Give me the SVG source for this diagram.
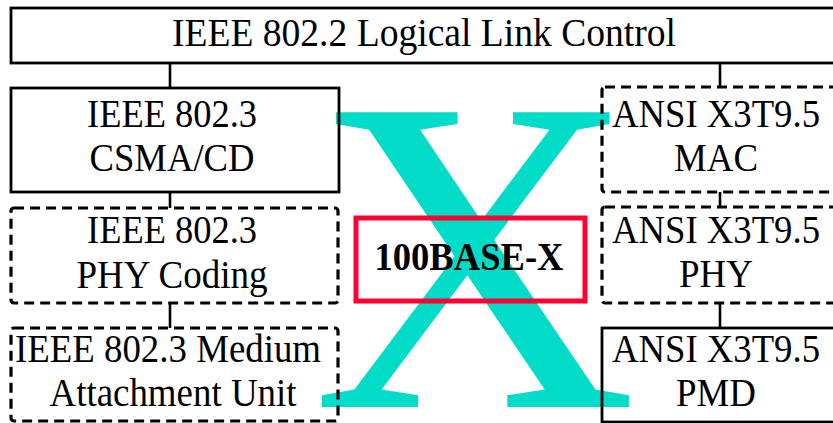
<svg xmlns="http://www.w3.org/2000/svg" width="833" height="423" viewBox="0 0 833 423">
<style>
.box{fill:none;stroke:#000;stroke-width:2.8}
.dash{fill:none;stroke:#000;stroke-width:3.2;stroke-dasharray:10 6}
.lbl{font-family:"Liberation Serif","Times New Roman",serif;font-size:39px;fill:#000;text-anchor:middle}
.conn{stroke:#000;stroke-width:2.6;fill:none}
</style>
<rect width="833" height="423" fill="#fff"/>
<text id="bigX" x="312" y="407" font-family="Liberation Serif, Times New Roman, serif" font-size="450" fill="#00DCC8">X</text>
<g id="connectors">
<line class="conn" x1="170" y1="63" x2="170" y2="88"/>
<line class="conn" x1="170" y1="192" x2="170" y2="208"/>
<line class="conn" x1="170" y1="303" x2="170" y2="328"/>
<line class="conn" x1="720" y1="63" x2="720" y2="87"/>
<line class="conn" x1="720" y1="192" x2="720" y2="207"/>
<line class="conn" x1="720" y1="303" x2="720" y2="328"/>
</g>
<g id="llc">
<rect class="box" x="11" y="8" width="830" height="55"/>
<text class="lbl" x="424" y="46" textLength="504" lengthAdjust="spacingAndGlyphs">IEEE 802.2 Logical Link Control</text>
</g>
<g id="csma">
<rect class="box" x="11" y="88" width="328" height="104"/>
<text class="lbl" x="172" y="127" textLength="170" lengthAdjust="spacingAndGlyphs">IEEE 802.3</text>
<text class="lbl" x="172" y="171" textLength="165" lengthAdjust="spacingAndGlyphs">CSMA/CD</text>
</g>
<g id="phycoding">
<rect class="dash" x="11" y="208" width="327" height="95" rx="3"/>
<text class="lbl" x="172" y="243" textLength="170" lengthAdjust="spacingAndGlyphs">IEEE 802.3</text>
<text class="lbl" x="172" y="288" textLength="191" lengthAdjust="spacingAndGlyphs">PHY Coding</text>
</g>
<g id="mau">
<rect class="dash" x="11" y="328" width="327" height="93" rx="3"/>
<text class="lbl" x="168" y="362" textLength="306" lengthAdjust="spacingAndGlyphs">IEEE 802.3 Medium</text>
<text class="lbl" x="173" y="406" textLength="247" lengthAdjust="spacingAndGlyphs">Attachment Unit</text>
</g>
<g id="mac">
<rect class="dash" x="602" y="87" width="240" height="105" rx="3"/>
<text class="lbl" x="716" y="127" textLength="208" lengthAdjust="spacingAndGlyphs">ANSI X3T9.5</text>
<text class="lbl" x="716" y="171" textLength="84" lengthAdjust="spacingAndGlyphs">MAC</text>
</g>
<g id="phy">
<rect class="dash" x="602" y="207" width="240" height="96" rx="3"/>
<text class="lbl" x="716" y="243" textLength="208" lengthAdjust="spacingAndGlyphs">ANSI X3T9.5</text>
<text class="lbl" x="716" y="287" textLength="74" lengthAdjust="spacingAndGlyphs">PHY</text>
</g>
<g id="pmd">
<rect class="box" x="602" y="328" width="240" height="94"/>
<text class="lbl" x="716" y="362" textLength="208" lengthAdjust="spacingAndGlyphs">ANSI X3T9.5</text>
<text class="lbl" x="716" y="406" textLength="80" lengthAdjust="spacingAndGlyphs">PMD</text>
</g>
<g id="base100x">
<rect x="356" y="218" width="229" height="83" fill="none" stroke="#FF0033" stroke-width="5"/>
<text x="469" y="270" font-family="Liberation Serif, Times New Roman, serif" font-size="39" font-weight="bold" text-anchor="middle" fill="#000" textLength="189" lengthAdjust="spacingAndGlyphs">100BASE-X</text>
</g>
</svg>
